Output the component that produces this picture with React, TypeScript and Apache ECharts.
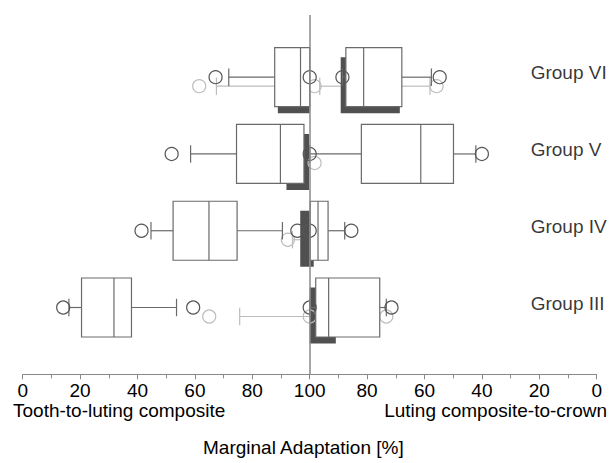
import React, { useEffect, useRef } from "react";
import * as echarts from "echarts";

// Groups, bottom to top
const groups = ["Group III", "Group IV", "Group V", "Group VI"];

// Tooth-to-luting composite (left half), outlined boxes: [lowWhisker, Q1, median, Q3, highWhisker]
const leftPrimary = [
  [16.1, 20.5, 31.8, 37.9, 53.6],
  [44.7, 52.4, 64.9, 74.7, 90.5],
  [58.5, 74.5, 89.8, 98.0, 98.0],
  [71.8, 87.8, 96.8, 100, 100],
];
const leftPrimaryOutliers = [[14.1, 59.4], [41.4, 95.7, 100], [51.9, 100], [67.2, 100]];
// filled boxes: [lowWhisker, Q1, Q3, highWhisker]
const leftSecondary = [
  [75.6, 100, 100, 100],
  [94.0, 96.7, 100, 100],
  [91.9, 91.9, 99.8, 99.8],
  [67.5, 88.9, 100, 100],
];
const leftSecondaryOutliers = [[65.0], [92.4], [], [61.5]];

// Luting composite-to-crown (right half)
const rightPrimary = [
  [73.3, 75.6, 93.4, 97.9, 100],
  [87.8, 93.6, 97.1, 99.8, 100],
  [42.1, 49.9, 61.3, 82.0, 100],
  [57.6, 67.9, 81.2, 87.4, 88.6],
];
const rightPrimaryOutliers = [[71.5, 100], [85.5], [40.0], [54.7, 88.6]];
const rightSecondary: (number[] | null)[] = [
  [90.9, 90.9, 100, 100],
  [98.6, 98.6, 100, 100],
  null,
  [58.1, 68.6, 89.2, 96.5],
];
const rightSecondaryOutliers = [[73.3, 100], [], [98.3], [55.8, 98.3]];

const xTicks = [0, 20, 40, 60, 80, 100, 80, 60, 40, 20, 0];

const FONT = "'Liberation Sans', Arial, Helvetica, sans-serif";
const LINE = "#6a6a6a";
const DARK = "#505050";
const LIGHT = "#bdbdbd";
const TEXT = "#000";

const toLeft = (v: number) => v;
const toRight = (v: number) => 200 - v;

const primaryData: number[][] = [];
const secondaryData: number[][] = [];
const primaryOut: number[][] = [];
const secondaryOut: number[][] = [];
groups.forEach((_, g) => {
  primaryData.push([g, ...leftPrimary[g].map(toLeft)]);
  primaryData.push([g, ...rightPrimary[g].map(toRight)]);
  secondaryData.push([g, ...leftSecondary[g].map(toLeft)]);
  const rs = rightSecondary[g];
  if (rs) secondaryData.push([g, ...rs.map(toRight)]);
  leftPrimaryOutliers[g].forEach((v) => primaryOut.push([g, toLeft(v)]));
  rightPrimaryOutliers[g].forEach((v) => primaryOut.push([g, toRight(v)]));
  leftSecondaryOutliers[g].forEach((v) => secondaryOut.push([g, toLeft(v)]));
  rightSecondaryOutliers[g].forEach((v) => secondaryOut.push([g, toRight(v)]));
});

const BOX_HALF = 29.5;
const CAP_HALF = 8.7;
const SEC_BOX_DY = 8;
const SEC_BOX_HALF = 28;
const SEC_WHISK_DY = 9;
const R = 6.5;

function whisker(x0: number, x1: number, y: number, color: string) {
  const out: any[] = [];
  if (Math.abs(x0 - x1) < 0.5) return out;
  out.push({ type: "line", shape: { x1: x0, y1: y, x2: x1, y2: y }, style: { stroke: color, lineWidth: 1.2 } });
  out.push({ type: "line", shape: { x1: x0, y1: y - CAP_HALF, x2: x0, y2: y + CAP_HALF }, style: { stroke: color, lineWidth: 1.2 } });
  return out;
}

export default function App() {
  const ref = useRef<HTMLDivElement>(null);
  useEffect(() => {
    document.body.style.margin = "0";
    const chart = echarts.init(ref.current!, null, { renderer: "svg" });
    const option: any = {
      animation: false,
      backgroundColor: "#ffffff",
      grid: { left: 22.7, right: 14.3, top: 15, bottom: 88.7, containLabel: false },
      xAxis: {
        type: "value",
        min: 0,
        max: 200,
        interval: 20,
        axisLine: { show: true, onZero: false, lineStyle: { color: "#8a8a8a", width: 1 } },
        axisTick: { show: true, length: 5, lineStyle: { color: "#8a8a8a" } },
        minorTick: { show: true, splitNumber: 2, length: 4, lineStyle: { color: "#8a8a8a" } },
        splitLine: { show: false },
        axisLabel: {
          fontSize: 19,
          color: TEXT,
          fontFamily: FONT,
          margin: 7,
          formatter: (v: number) => String(xTicks[Math.round(v / 20)]),
        },
      },
      yAxis: {
        type: "value",
        min: -0.87,
        max: 3.81,
        show: false,
        axisLine: { onZero: false },
        splitLine: { show: false },
      },
      graphic: [
        { type: "text", left: 13, top: 401, style: { text: "Tooth-to-luting composite", fontSize: 19, fill: TEXT, fontFamily: FONT } },
        { type: "text", right: 4, top: 401, style: { text: "Luting composite-to-crown", fontSize: 19, fill: TEXT, fontFamily: FONT } },
        { type: "text", left: 203, top: 438, style: { text: "Marginal Adaptation [%]", fontSize: 19, fill: TEXT, fontFamily: FONT } },
      ],
      series: [
        {
          type: "custom",
          z: 1,
          data: secondaryData,
          encode: { x: [1, 2, 3, 4], y: 0 },
          renderItem: (params: any, api: any) => {
            const g = api.value(0);
            const yC = api.coord([0, g])[1];
            const xLo = api.coord([api.value(1), g])[0];
            const xQ1 = api.coord([api.value(2), g])[0];
            const xQ3 = api.coord([api.value(3), g])[0];
            const xHi = api.coord([api.value(4), g])[0];
            const yW = yC + SEC_WHISK_DY;
            const children: any[] = [...whisker(xLo, xQ1, yW, LIGHT), ...whisker(xHi, xQ3, yW, LIGHT)];
            const w = Math.abs(xQ3 - xQ1);
            if (w > 0.5) {
              children.push({
                type: "rect",
                shape: { x: Math.min(xQ1, xQ3), y: yC + SEC_BOX_DY - SEC_BOX_HALF, width: w, height: 2 * SEC_BOX_HALF },
                style: { fill: DARK },
              });
            }
            return { type: "group", children };
          },
          markLine: {
            silent: true,
            symbol: ["none", "none"],
            label: { show: false },
            lineStyle: { color: "#8a8a8a", width: 1.5, type: "solid" },
            data: [{ xAxis: 100 }],
          },
        },
        {
          type: "custom",
          z: 2,
          data: secondaryOut,
          encode: { x: 1, y: 0 },
          renderItem: (params: any, api: any) => {
            const p = api.coord([api.value(1), api.value(0)]);
            return { type: "circle", shape: { cx: p[0], cy: p[1] + SEC_WHISK_DY, r: R }, style: { fill: "none", stroke: LIGHT, lineWidth: 1.2 } };
          },
        },
        {
          type: "custom",
          z: 3,
          data: primaryData,
          encode: { x: [1, 2, 3, 4, 5], y: 0 },
          renderItem: (params: any, api: any) => {
            const g = api.value(0);
            const yC = api.coord([0, g])[1];
            const xLo = api.coord([api.value(1), g])[0];
            const xQ1 = api.coord([api.value(2), g])[0];
            const xMed = api.coord([api.value(3), g])[0];
            const xQ3 = api.coord([api.value(4), g])[0];
            const xHi = api.coord([api.value(5), g])[0];
            const children: any[] = [...whisker(xLo, xQ1, yC, LINE), ...whisker(xHi, xQ3, yC, LINE)];
            children.push({
              type: "rect",
              shape: { x: Math.min(xQ1, xQ3), y: yC - BOX_HALF, width: Math.abs(xQ3 - xQ1), height: 2 * BOX_HALF },
              style: { fill: "#ffffff", stroke: LINE, lineWidth: 1.2 },
            });
            children.push({
              type: "line",
              shape: { x1: xMed, y1: yC - BOX_HALF, x2: xMed, y2: yC + BOX_HALF },
              style: { stroke: LINE, lineWidth: 1.2 },
            });
            return { type: "group", children };
          },
        },
        {
          type: "custom",
          z: 4,
          data: primaryOut,
          encode: { x: 1, y: 0 },
          renderItem: (params: any, api: any) => {
            const p = api.coord([api.value(1), api.value(0)]);
            return { type: "circle", shape: { cx: p[0], cy: p[1], r: R }, style: { fill: "none", stroke: "#555", lineWidth: 1.2 } };
          },
        },
        {
          type: "scatter",
          z: 5,
          silent: true,
          symbolSize: 1,
          itemStyle: { color: "rgba(0,0,0,0)" },
          data: groups.map((_, i) => [200, i]),
          label: {
            show: true,
            formatter: (p: any) => groups[p.dataIndex],
            position: [-65.5, -4],
            align: "left",
            verticalAlign: "middle",
            fontSize: 19,
            color: TEXT,
            fontFamily: FONT,
          },
        },
      ],
    };
    chart.setOption(option);
    return () => chart.dispose();
  }, []);
  return <div ref={ref} style={{ width: 611, height: 463 }} />;
}
